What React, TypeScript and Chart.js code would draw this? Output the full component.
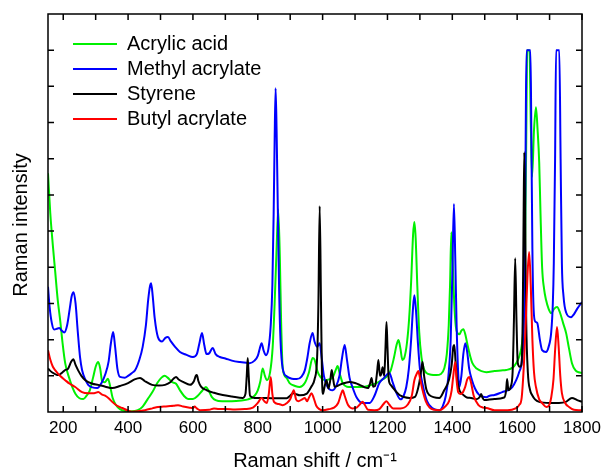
import React, { useEffect, useRef } from 'react';
import { Chart, registerables } from 'chart.js';

Chart.register(...registerables);

const FONT = "'Liberation Sans', Arial, Helvetica, sans-serif";

// Axis definitions
const xMin = 153;
const xMax = 1800;
const yMin = 0;
const yMax = 11;
const xTickLabels = [200, 400, 600, 800, 1000, 1200, 1400, 1600, 1800];
const xTickMarks = [200, 300, 400, 500, 600, 700, 800, 900, 1000, 1100, 1200, 1300, 1400, 1500, 1600, 1700, 1800];
const yTickMarks = [1, 2, 3, 4, 5, 6, 7, 8, 9, 10];

const seriesLabels = ['Acrylic acid', 'Methyl acrylate', 'Styrene', 'Butyl acrylate'];
const seriesColors = ['#00f000', '#0000ff', '#000000', '#ff0000'];
const xTitle = 'Raman shift / cm\u207B\u00B9';
const yTitle = 'Raman intensity';

// [Raman shift (cm-1), intensity (a.u.)]
const acrylicAcid: [number, number][] = [
  [153, 6.6], [160, 5.5], [168, 4.6], [175, 3.9], [183, 3.1], [191, 2.5], [198, 1.9], [206, 1.35],
  [218, 0.95], [228, 0.69], [238, 0.5], [250, 0.38], [262, 0.36], [272, 0.45], [282, 0.6], [292, 0.95],
  [300, 1.25], [308, 1.38], [314, 1.2], [320, 0.85], [328, 0.82], [338, 0.92], [345, 0.7], [352, 0.4],
  [362, 0.2], [375, 0.08], [390, 0.03], [410, 0.02], [430, 0.05], [445, 0.15], [460, 0.35], [475, 0.55],
  [490, 0.8], [503, 0.95], [513, 1.0], [522, 0.95], [535, 0.83], [548, 0.78], [560, 0.6], [572, 0.45],
  [585, 0.36], [600, 0.36], [615, 0.45], [628, 0.58], [640, 0.69], [648, 0.6], [658, 0.42], [670, 0.33],
  [690, 0.3], [720, 0.3], [750, 0.32], [770, 0.35], [790, 0.45], [800, 0.6], [808, 0.85], [815, 1.2],
  [822, 1.0], [828, 0.88], [838, 1.1], [846, 1.8], [852, 3.0], [858, 4.5], [863, 5.6], [868, 4.3],
  [872, 2.5], [877, 1.2], [888, 0.95], [898, 0.8], [915, 0.72], [929, 0.69], [945, 0.8], [958, 1.1],
  [969, 1.49], [975, 1.45], [985, 1.1], [995, 0.95], [1006, 0.88], [1020, 0.9], [1032, 0.97], [1040, 1.15],
  [1046, 1.27], [1053, 1.05], [1062, 0.8], [1075, 0.7], [1090, 0.69], [1110, 0.69], [1130, 0.7], [1150, 0.75],
  [1166, 0.8], [1185, 0.9], [1197, 0.97], [1210, 1.15], [1220, 1.5], [1228, 1.85], [1234, 1.99], [1240, 1.75],
  [1246, 1.44], [1252, 1.5], [1260, 1.9], [1267, 2.6], [1273, 3.6], [1279, 4.9], [1283, 5.25], [1287, 4.8],
  [1292, 3.5], [1298, 2.2], [1305, 1.5], [1312, 1.2], [1320, 1.08], [1335, 1.03], [1350, 1.02], [1365, 1.05],
  [1375, 1.2], [1383, 1.6], [1389, 2.4], [1393, 3.5], [1397, 4.97], [1401, 4.2], [1406, 3.0], [1411, 2.35],
  [1416, 2.18], [1422, 2.15], [1428, 2.25], [1434, 2.29], [1440, 2.15], [1447, 1.85], [1455, 1.55], [1462, 1.35],
  [1475, 1.2], [1490, 1.13], [1505, 1.1], [1530, 1.13], [1550, 1.15], [1566, 1.16], [1585, 1.22], [1597, 1.35],
  [1607, 1.55], [1615, 1.9], [1620, 2.5], [1624, 4.0], [1628, 7.5], [1631, 10], [1638, 10], [1642, 8.0],
  [1646, 6.5], [1652, 7.8], [1658, 8.42], [1663, 7.8], [1668, 6.9], [1672, 5.5], [1677, 4.0], [1683, 3.4],
  [1689, 3.1], [1697, 2.85], [1705, 2.73], [1714, 2.85], [1723, 2.9], [1732, 2.75], [1742, 2.45], [1751, 2.18],
  [1760, 1.75], [1769, 1.35], [1780, 1.15], [1790, 1.1], [1800, 1.08],
];

const methylAcrylate: [number, number][] = [
  [153, 3.46], [158, 2.9], [165, 2.45], [172, 2.28], [180, 2.3], [188, 2.32], [195, 2.25], [203, 2.2],
  [212, 2.4], [220, 2.85], [226, 3.2], [232, 3.31], [238, 3.0], [245, 2.2], [252, 1.5], [258, 1.16],
  [268, 0.9], [277, 0.75], [290, 0.68], [305, 0.66], [318, 0.8], [330, 1.05], [340, 1.4], [347, 1.9],
  [354, 2.21], [360, 1.8], [367, 1.2], [375, 0.97], [390, 0.95], [400, 1.0], [412, 1.08], [422, 1.16],
  [435, 1.45], [445, 1.8], [455, 2.4], [462, 3.1], [468, 3.5], [471, 3.56], [476, 3.2], [482, 2.6],
  [492, 2.07], [505, 1.95], [515, 2.05], [523, 2.07], [532, 1.95], [545, 1.8], [560, 1.66], [580, 1.58],
  [600, 1.52], [612, 1.6], [620, 1.9], [628, 2.18], [635, 1.85], [642, 1.6], [650, 1.62], [661, 1.77],
  [670, 1.6], [683, 1.52], [700, 1.48], [720, 1.42], [745, 1.38], [775, 1.35], [790, 1.42], [800, 1.55],
  [806, 1.75], [812, 1.9], [818, 1.7], [825, 1.57], [833, 1.75], [840, 2.4], [845, 3.5], [849, 5.5],
  [852, 7.5], [855, 8.95], [858, 7.8], [862, 5.5], [866, 3.3], [870, 2.0], [877, 1.2], [890, 0.98],
  [905, 0.92], [920, 0.91], [935, 0.98], [945, 1.15], [953, 1.5], [960, 1.9], [969, 2.18], [975, 1.95],
  [983, 1.8], [991, 1.9], [997, 1.5], [1004, 1.0], [1012, 0.75], [1022, 0.62], [1031, 0.6], [1042, 0.72],
  [1052, 1.0], [1060, 1.5], [1068, 1.85], [1075, 1.45], [1083, 0.95], [1092, 0.69], [1105, 0.4], [1123, 0.25],
  [1145, 0.25], [1160, 0.45], [1175, 0.8], [1190, 0.95], [1200, 1.05], [1206, 1.08], [1215, 0.85], [1228, 0.52],
  [1240, 0.35], [1250, 0.45], [1258, 0.69], [1266, 1.2], [1273, 2.0], [1279, 2.9], [1283, 3.23], [1288, 2.8],
  [1294, 1.9], [1300, 1.2], [1310, 0.7], [1322, 0.3], [1338, 0.11], [1350, 0.06], [1360, 0.05], [1370, 0.15],
  [1380, 0.45], [1388, 1.0], [1395, 2.0], [1400, 3.8], [1405, 5.75], [1409, 4.3], [1413, 2.5], [1418, 1.1],
  [1422, 0.69], [1428, 1.0], [1434, 1.6], [1440, 1.9], [1446, 1.65], [1452, 1.2], [1460, 0.9], [1470, 0.65],
  [1482, 0.48], [1495, 0.42], [1505, 0.41], [1515, 0.45], [1530, 0.47], [1554, 0.55], [1570, 0.6], [1585, 0.69],
  [1597, 0.88], [1606, 1.1], [1615, 1.44], [1620, 2.2], [1624, 4.5], [1627, 8.5], [1629, 10], [1641, 10],
  [1644, 7.5], [1647, 4.5], [1651, 2.8], [1656, 2.5], [1662, 2.46], [1670, 2.0], [1677, 1.71], [1689, 1.66],
  [1697, 1.8], [1705, 2.2], [1710, 3.0], [1713, 4.1], [1717, 7.0], [1720, 10], [1730, 10], [1734, 7.0],
  [1738, 4.1], [1743, 3.2], [1751, 2.75], [1766, 2.62], [1775, 2.7], [1785, 2.85], [1800, 3.04],
];

const styrene: [number, number][] = [
  [153, 1.2], [165, 1.1], [185, 1.02], [198, 1.1], [206, 1.16], [215, 1.2], [224, 1.38], [231, 1.46],
  [238, 1.3], [246, 1.15], [256, 1.0], [268, 0.88], [290, 0.78], [308, 0.75], [330, 0.7], [351, 0.66],
  [375, 0.72], [400, 0.8], [420, 0.9], [437, 0.94], [452, 0.85], [474, 0.75], [495, 0.73], [514, 0.75],
  [530, 0.82], [540, 0.92], [548, 0.97], [556, 0.9], [570, 0.83], [591, 0.75], [603, 0.85], [609, 1.0],
  [612, 1.02], [617, 0.85], [625, 0.7], [643, 0.6], [665, 0.53], [692, 0.47], [720, 0.43], [754, 0.39],
  [762, 0.5], [766, 1.0], [769, 1.49], [772, 1.0], [776, 0.45], [790, 0.39], [806, 0.39], [850, 0.38],
  [889, 0.38], [900, 0.45], [908, 0.52], [916, 0.5], [930, 0.46], [950, 0.5], [965, 0.7], [975, 0.9],
  [983, 1.5], [987, 3.0], [991, 5.69], [995, 3.0], [998, 1.0], [1001, 0.5], [1006, 0.7], [1012, 0.88],
  [1018, 0.65], [1024, 0.9], [1028, 1.16], [1032, 0.95], [1037, 0.7], [1045, 0.72], [1052, 0.75], [1068, 0.8],
  [1083, 0.83], [1100, 0.8], [1114, 0.75], [1130, 0.68], [1140, 0.66], [1146, 0.78], [1151, 0.94], [1156, 0.7],
  [1162, 0.72], [1168, 1.1], [1172, 1.44], [1177, 1.0], [1181, 1.05], [1185, 1.24], [1190, 1.0], [1194, 1.8],
  [1197, 2.49], [1200, 1.8], [1204, 0.9], [1210, 0.75], [1215, 0.69], [1237, 0.47], [1268, 0.39], [1285, 0.42],
  [1298, 0.8], [1304, 1.15], [1308, 1.38], [1313, 1.0], [1320, 0.62], [1329, 0.47], [1360, 0.39], [1375, 0.6],
  [1390, 0.9], [1398, 1.3], [1403, 1.8], [1406, 1.85], [1410, 1.4], [1415, 0.9], [1422, 0.6], [1428, 0.52],
  [1437, 0.45], [1445, 0.4], [1458, 0.39], [1475, 0.35], [1485, 0.42], [1489, 0.5], [1493, 0.4], [1498, 0.33],
  [1530, 0.36], [1560, 0.4], [1566, 0.6], [1569, 0.91], [1573, 0.6], [1580, 0.7], [1586, 1.1], [1590, 2.5],
  [1594, 4.25], [1598, 2.5], [1602, 1.35], [1608, 1.25], [1613, 1.3], [1617, 2.5], [1620, 5.5], [1622, 7.18],
  [1625, 5.0], [1628, 2.5], [1633, 1.1], [1640, 0.6], [1646, 0.47], [1655, 0.35], [1668, 0.28], [1700, 0.25],
  [1729, 0.25], [1750, 0.28], [1769, 0.39], [1785, 0.33], [1800, 0.28],
];

const butylAcrylate: [number, number][] = [
  [153, 1.71], [160, 1.45], [168, 1.25], [175, 1.16], [190, 1.0], [206, 0.88], [220, 0.78], [237, 0.69],
  [258, 0.55], [277, 0.52], [295, 0.52], [308, 0.55], [320, 0.48], [329, 0.45], [340, 0.38], [351, 0.28],
  [365, 0.18], [382, 0.11], [400, 0.04], [412, 0.01], [430, 0.02], [452, 0.05], [475, 0.1], [492, 0.14],
  [510, 0.15], [523, 0.16], [540, 0.17], [554, 0.19], [570, 0.15], [590, 0.12], [600, 0.11], [605, 0.15],
  [612, 0.1], [622, 0.05], [650, 0.06], [665, 0.1], [680, 0.08], [700, 0.08], [730, 0.07], [760, 0.08],
  [785, 0.12], [800, 0.25], [812, 0.39], [820, 0.3], [828, 0.25], [834, 0.5], [840, 0.97], [845, 0.5],
  [850, 0.28], [865, 0.22], [877, 0.19], [890, 0.25], [900, 0.35], [911, 0.6], [918, 0.35], [925, 0.3],
  [937, 0.35], [945, 0.39], [952, 0.3], [958, 0.4], [966, 0.52], [972, 0.4], [980, 0.18], [990, 0.08],
  [1000, 0.05], [1020, 0.08], [1035, 0.12], [1048, 0.25], [1057, 0.5], [1062, 0.6], [1068, 0.45], [1078, 0.2],
  [1092, 0.1], [1105, 0.12], [1116, 0.22], [1123, 0.28], [1130, 0.2], [1140, 0.06], [1160, 0.05], [1175, 0.08],
  [1188, 0.22], [1197, 0.3], [1206, 0.2], [1218, 0.1], [1240, 0.1], [1262, 0.2], [1275, 0.45], [1283, 0.88],
  [1290, 1.05], [1295, 1.13], [1300, 0.95], [1307, 0.65], [1318, 0.3], [1330, 0.12], [1345, 0.06], [1360, 0.05],
  [1378, 0.15], [1390, 0.3], [1398, 0.6], [1403, 1.0], [1409, 1.38], [1413, 0.9], [1418, 0.55], [1425, 0.5],
  [1433, 0.55], [1440, 0.7], [1446, 0.9], [1452, 0.97], [1458, 0.8], [1466, 0.45], [1480, 0.2], [1495, 0.12],
  [1505, 0.11], [1530, 0.05], [1570, 0.05], [1595, 0.1], [1606, 0.19], [1614, 0.4], [1621, 1.35], [1627, 2.6],
  [1632, 3.8], [1637, 4.42], [1642, 3.5], [1647, 2.0], [1652, 1.1], [1658, 0.69], [1668, 0.35], [1677, 0.25],
  [1690, 0.14], [1698, 0.18], [1705, 0.4], [1712, 0.9], [1717, 1.7], [1723, 2.35], [1728, 1.8], [1733, 1.0],
  [1738, 0.52], [1748, 0.25], [1760, 0.14], [1775, 0.06], [1790, 0.05], [1800, 0.05],
];

const seriesData = [acrylicAcid, methylAcrylate, styrene, butylAcrylate];
const seriesOrder = [3, 2, 1, 0];

const framePlugin = {
  id: 'frameTicks',
  afterLayout(chart: any) {
    const l = chart.legend;
    const a = chart.chartArea;
    if (l && a) {
      const w = l.width, h = l.height;
      l.left = a.left + 20;
      l.top = a.top + 15;
      l.right = l.left + w;
      l.bottom = l.top + h;
    }
  },
  afterDatasetsDraw(chart: any) {
    const { ctx, chartArea: a, scales } = chart;
    const xs = scales.x;
    const ys = scales.y;
    ctx.save();
    ctx.strokeStyle = '#000';
    ctx.lineWidth = 1.5;
    ctx.strokeRect(a.left, a.top, a.right - a.left, a.bottom - a.top);
    ctx.beginPath();
    const tl = 6;
    for (const v of xTickMarks) {
      const px = xs.getPixelForValue(v);
      ctx.moveTo(px, a.bottom);
      ctx.lineTo(px, a.bottom - tl);
      ctx.moveTo(px, a.top);
      ctx.lineTo(px, a.top + tl);
    }
    for (const v of yTickMarks) {
      const py = ys.getPixelForValue(v);
      ctx.moveTo(a.left, py);
      ctx.lineTo(a.left + tl, py);
      ctx.moveTo(a.right, py);
      ctx.lineTo(a.right - tl, py);
    }
    ctx.stroke();
    ctx.translate(21.5, (a.top + a.bottom) / 2 + 12);
    ctx.rotate(-Math.PI / 2);
    ctx.font = `20px ${FONT}`;
    ctx.fillStyle = '#000';
    ctx.textAlign = 'center';
    ctx.textBaseline = 'middle';
    ctx.fillText(yTitle, 0, 0);
    ctx.restore();
  },
};

export default function App() {
  const canvasRef = useRef<HTMLCanvasElement | null>(null);

  useEffect(() => {
    const canvas = canvasRef.current;
    if (!canvas) return;
    const chart = new Chart(canvas, {
      type: 'line',
      data: {
        datasets: seriesData.map((pts, i) => ({
          label: seriesLabels[i],
          data: pts.map(([x, y]) => ({ x, y })),
          borderColor: seriesColors[i],
          backgroundColor: seriesColors[i],
          borderWidth: 2,
          pointRadius: 0,
          fill: false,
          cubicInterpolationMode: 'monotone',
          order: seriesOrder[i],
        })),
      },
      options: {
        responsive: false,
        animation: false,
        events: [],
        layout: { padding: { top: 14, right: 21, left: 0, bottom: 0 } },
        scales: {
          x: {
            type: 'linear',
            min: xMin,
            max: xMax,
            afterBuildTicks: (s: any) => {
              s.ticks = xTickLabels.map((v) => ({ value: v }));
            },
            ticks: {
              color: '#000',
              font: { size: 17, family: FONT },
              padding: 6,
              maxRotation: 0,
              autoSkip: false,
              callback: (v: any) => String(v),
            },
            grid: { display: false, drawTicks: false, tickLength: 0 },
            border: { display: false },
            title: {
              display: true,
              text: xTitle,
              color: '#000',
              font: { size: 20, family: FONT, lineHeight: 1 },
              padding: { top: 0, bottom: 0 },
            },
            afterFit: (s: any) => {
              s.height = 59;
              s.paddingLeft = 0;
              s.paddingRight = 0;
            },
          },
          y: {
            type: 'linear',
            min: yMin,
            max: yMax,
            ticks: { display: false },
            grid: { display: false, drawTicks: false, tickLength: 0 },
            border: { display: false },
            afterFit: (s: any) => {
              s.width = 48;
              s.paddingTop = 0;
              s.paddingBottom = 0;
            },
          },
        },
        plugins: {
          tooltip: { enabled: false },
          legend: {
            display: true,
            position: 'chartArea',
            align: 'start',
            labels: {
              color: '#000',
              font: { size: 20, family: FONT },
              boxWidth: 44,
              boxHeight: 2,
              padding: 5,
              sort: (a: any, b: any) => a.datasetIndex - b.datasetIndex,
              generateLabels: (ch: any) =>
                (Chart.defaults.plugins.legend.labels.generateLabels as any)(ch).map((l: any) => ({
                  ...l,
                  fillStyle: l.strokeStyle,
                  lineWidth: 0,
                })),
            },
          },
        },
      } as any,
      plugins: [framePlugin],
    });
    return () => chart.destroy();
  }, []);

  return (
    <div style={{ position: 'fixed', left: 0, top: 0, width: 603, height: 471, background: '#fff' }}>
      <canvas ref={canvasRef} width={603} height={471} style={{ display: 'block' }} />
    </div>
  );
}
